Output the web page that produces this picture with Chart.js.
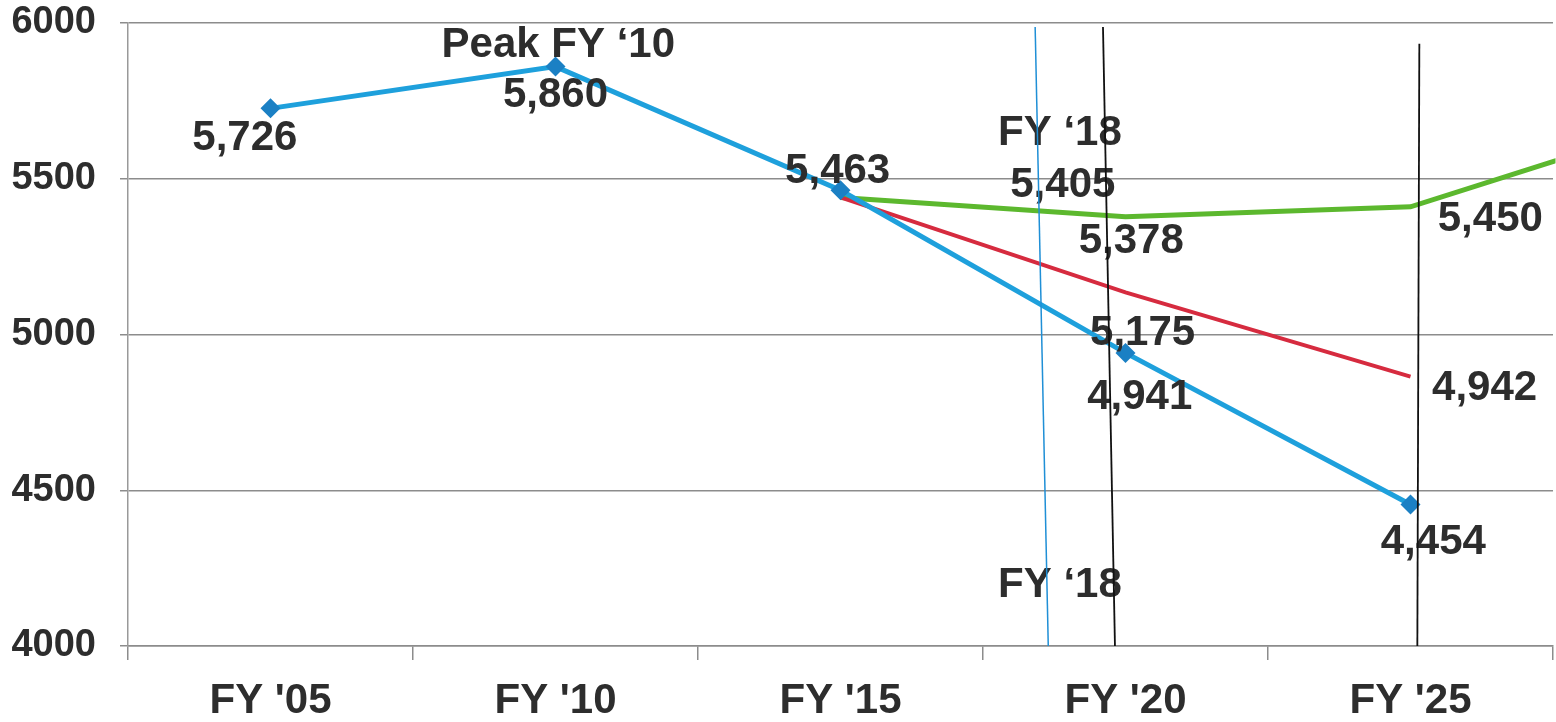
<!DOCTYPE html>
<html>
<head>
<meta charset="utf-8">
<script src="https://cdn.jsdelivr.net/npm/chart.js@4/dist/chart.umd.min.js"></script>
<style>
  html, body { margin: 0; padding: 0; background: #fff; }
  #wrap { width: 1556px; height: 722px; }
</style>
</head>
<body>
<div id="wrap"><canvas id="chart"></canvas></div>
<script>
// categories (the last one runs off the right edge of the plot)
const years = ["FY '05", "FY '10", "FY '15", "FY '20", "FY '25", "FY '30"];

// series values
const actual = [5726, 5860, 5463, 4941, 4454, null];
const projLow = [null, null, 5440, 5135, 4865, null];
const projHigh = [null, null, 5440, 5378, 5410, 5700];

// y axis ticks
const yTicks = [4000, 4500, 5000, 5500, 6000];

// text written on the chart, placed in axis units (category index, value)
const notes = [
  { text: 'Peak FY \u201810', x: 1.01, y: 5929 },
  { text: '5,860', x: 1.0, y: 5769 },
  { text: '5,726', x: -0.09, y: 5631 },
  { text: '5,463', x: 1.99, y: 5522 },
  { text: 'FY \u201818', x: 2.77, y: 5644 },
  { text: '5,405', x: 2.78, y: 5480 },
  { text: '5,378', x: 3.02, y: 5300 },
  { text: '5,175', x: 3.06, y: 5005 },
  { text: '4,941', x: 3.05, y: 4799 },
  { text: '5,450', x: 4.28, y: 5368 },
  { text: '4,942', x: 4.26, y: 4828 },
  { text: '4,454', x: 4.08, y: 4331 },
  { text: 'FY \u201818', x: 2.77, y: 4196 }
];

// hand drawn vertical marker lines
const markers = [
  { color: '#1f8fd6', width: 1.5, x0: 2.683, y0: 5987, x1: 2.729, y1: 4000 },
  { color: '#111', width: 1.8, x0: 2.921, y0: 5987, x1: 2.963, y1: 4000 },
  { color: '#111', width: 1.8, x0: 4.031, y0: 5933, x1: 4.024, y1: 4000 }
];

const textColor = '#2d2d2d';
const gridColor = '#8c8c8c';

const notesPlugin = {
  id: 'notes',
  afterDatasetsDraw(chart) {
    const { ctx, scales: { x, y } } = chart;
    ctx.save();
    ctx.font = 'bold 42px "Liberation Sans", Arial, sans-serif';
    ctx.fillStyle = textColor;
    ctx.textAlign = 'center';
    ctx.textBaseline = 'middle';
    notes.forEach(n => {
      ctx.fillText(n.text, x.getPixelForValue(n.x), y.getPixelForValue(n.y));
    });
    markers.forEach(m => {
      ctx.beginPath();
      ctx.strokeStyle = m.color;
      ctx.lineWidth = m.width;
      ctx.moveTo(x.getPixelForValue(m.x0), y.getPixelForValue(m.y0));
      ctx.lineTo(x.getPixelForValue(m.x1), y.getPixelForValue(m.y1));
      ctx.stroke();
    });
    ctx.restore();
  }
};

new Chart(document.getElementById('chart'), {
  type: 'line',
  data: {
    labels: years,
    datasets: [
      {
        label: 'Actual',
        data: actual,
        borderColor: '#1ea0dc',
        borderWidth: 5,
        pointStyle: 'rectRot',
        pointRadius: 10,
        pointBackgroundColor: '#1b80c4',
        pointBorderWidth: 0,
        tension: 0
      },
      {
        label: 'Projection low',
        data: projLow,
        borderColor: '#d62b3f',
        borderWidth: 4,
        pointRadius: 0,
        tension: 0
      },
      {
        label: 'Projection high',
        data: projHigh,
        borderColor: '#5cb82e',
        borderWidth: 5,
        pointRadius: 0,
        tension: 0
      }
    ]
  },
  options: {
    responsive: true,
    maintainAspectRatio: false,
    animation: false,
    layout: { autoPadding: false, padding: { left: 0, right: 3, top: 23, bottom: 0 } },
    plugins: {
      legend: { display: false },
      tooltip: { enabled: false }
    },
    scales: {
      x: {
        offset: true,
        // stop the axis at FY '25 while the green line still runs on past the edge
        afterDataLimits: axis => { axis.max = 4; },
        afterFit: axis => {
          axis.height = 76;
          axis.paddingLeft = 0;
          axis.paddingRight = 0;
        },
        grid: {
          offset: true,
          drawOnChartArea: false,
          color: gridColor,
          lineWidth: 1.5,
          tickLength: 14
        },
        border: { color: gridColor, width: 1.5 },
        ticks: {
          color: textColor,
          padding: 16,
          maxRotation: 0,
          font: { family: '"Liberation Sans", Arial, sans-serif', size: 42, weight: 'bold' }
        }
      },
      y: {
        min: 4000,
        max: 6000,
        afterBuildTicks: axis => { axis.ticks = yTicks.map(v => ({ value: v })); },
        afterFit: axis => {
          axis.width = 128;
          axis.paddingTop = 0;
          axis.paddingBottom = 0;
        },
        grid: {
          color: gridColor,
          lineWidth: 1.5,
          tickLength: 8
        },
        border: { color: '#999', width: 1.5 },
        ticks: {
          color: textColor,
          padding: 24,
          callback: v => String(v),
          font: { family: '"Liberation Sans", Arial, sans-serif', size: 38, weight: 'bold' }
        }
      }
    }
  },
  plugins: [notesPlugin]
});
</script>
</body>
</html>
